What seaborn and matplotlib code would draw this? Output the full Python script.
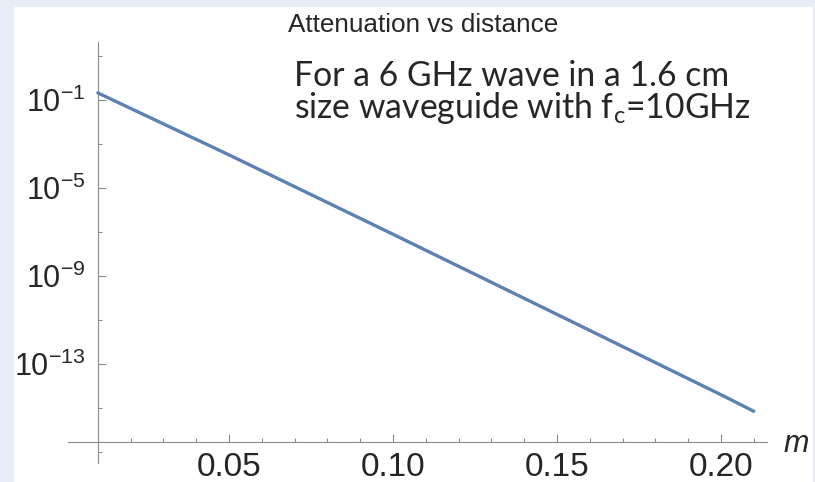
import numpy as np
import pandas as pd
import seaborn as sns
from matplotlib import pyplot as plt
from matplotlib.patches import Rectangle
from matplotlib.ticker import FixedLocator, LogFormatterSciNotation, NullFormatter

# values
distance_m = [0.01, 0.05, 0.10, 0.15, 0.20, 0.21]
attenuation = [2.1e-1, 3.2e-4, 7.9e-8, 1.8e-11, 4.0e-15, 7.1e-16]

x_major_ticks = [0.05, 0.10, 0.15, 0.20]
x_minor_ticks = [0.01, 0.02, 0.03, 0.04, 0.06, 0.07, 0.08, 0.09, 0.11, 0.12,
                 0.13, 0.14, 0.16, 0.17, 0.18, 0.19, 0.21]
y_major_ticks = [1e-1, 1e-5, 1e-9, 1e-13]
y_minor_ticks = [1e1, 1e-3, 1e-7, 1e-11, 1e-15, 1e-17]

title = "Attenuation vs distance"
note_lines = ["For a 6 GHz wave in a 1.6 cm", "size waveguide with f$_\\mathregular{c}$=10GHz"]

LINE_COLOR = "#5e81b5"
AXIS_COLOR = "#8c8c8c"
W, H = 815, 482

sns.set_style("white")
plt.rcParams["font.family"] = ["Liberation Sans", "DejaVu Sans"]

df = pd.DataFrame({"distance": distance_m, "attenuation": attenuation})

fig = plt.figure(figsize=(W / 100, H / 100), dpi=100, facecolor="#e7eef7")
fig.patches.append(
    Rectangle((14 / W, 0), (813 - 14) / W, (H - 7) / H,
              transform=fig.transFigure, facecolor="white", edgecolor="none", zorder=-5)
)

ax = fig.add_axes([0, 0, 1, 1])
ax.patch.set_visible(False)
ax.set_yscale("log")
# pixel mapping: 0.05 -> 229 px, 3280 px per unit; 1e-1 -> 100 px, 22 px per decade
ax.set_xlim(0.05 - 229 / 3280, 0.05 + (W - 229) / 3280)
ax.set_ylim(10 ** (-1 - (H - 100) / 22), 10 ** (-1 + 100 / 22))

sns.lineplot(data=df, x="distance", y="attenuation", ax=ax,
             color=LINE_COLOR, linewidth=2.4, zorder=3)

for side in ["top", "right"]:
    ax.spines[side].set_visible(False)
ax.spines["left"].set_position(("data", 0.01))
ax.spines["bottom"].set_position(("data", 10 ** (-1 - 342 / 22)))
ax.spines["left"].set_bounds(10 ** (-1 - 363 / 22), 10 ** (-1 + 58 / 22))
ax.spines["bottom"].set_bounds(0.05 - 161 / 3280, 0.05 + 538 / 3280)
for side in ["left", "bottom"]:
    ax.spines[side].set_color(AXIS_COLOR)
    ax.spines[side].set_linewidth(0.8)

ax.xaxis.set_major_locator(FixedLocator(x_major_ticks))
ax.xaxis.set_minor_locator(FixedLocator(x_minor_ticks))
ax.xaxis.set_major_formatter(lambda v, pos: f"{v:.2f}")
ax.xaxis.set_minor_formatter(NullFormatter())
ax.yaxis.set_major_locator(FixedLocator(y_major_ticks))
ax.yaxis.set_minor_locator(FixedLocator(y_minor_ticks))
ax.yaxis.set_major_formatter(LogFormatterSciNotation())
ax.yaxis.set_minor_formatter(NullFormatter())

ax.tick_params(which="both", direction="in", color=AXIS_COLOR, width=0.8,
               bottom=True, left=True, top=False, right=False)
ax.tick_params(which="major", length=5.5)
ax.tick_params(which="minor", length=2.8)
ax.tick_params(axis="x", which="major", labelsize=24, pad=7)
ax.tick_params(axis="y", which="major", labelsize=22, pad=9)
ax.set_xlabel("")
ax.set_ylabel("")

fig.text(796 / W, 1 - 444 / H, "m", fontsize=22, style="italic",
         ha="center", va="center")
fig.text(423 / W, 1 - 25 / H, title, fontsize=18.8, ha="center", va="center")
for i, line in enumerate(note_lines):
    fig.text(294 / W, 1 - (76 + 32 * i) / H, line, fontsize=24.3,
             family=["Lato", "DejaVu Sans"], ha="left", va="center")

fig.savefig("out.png", dpi=100)
